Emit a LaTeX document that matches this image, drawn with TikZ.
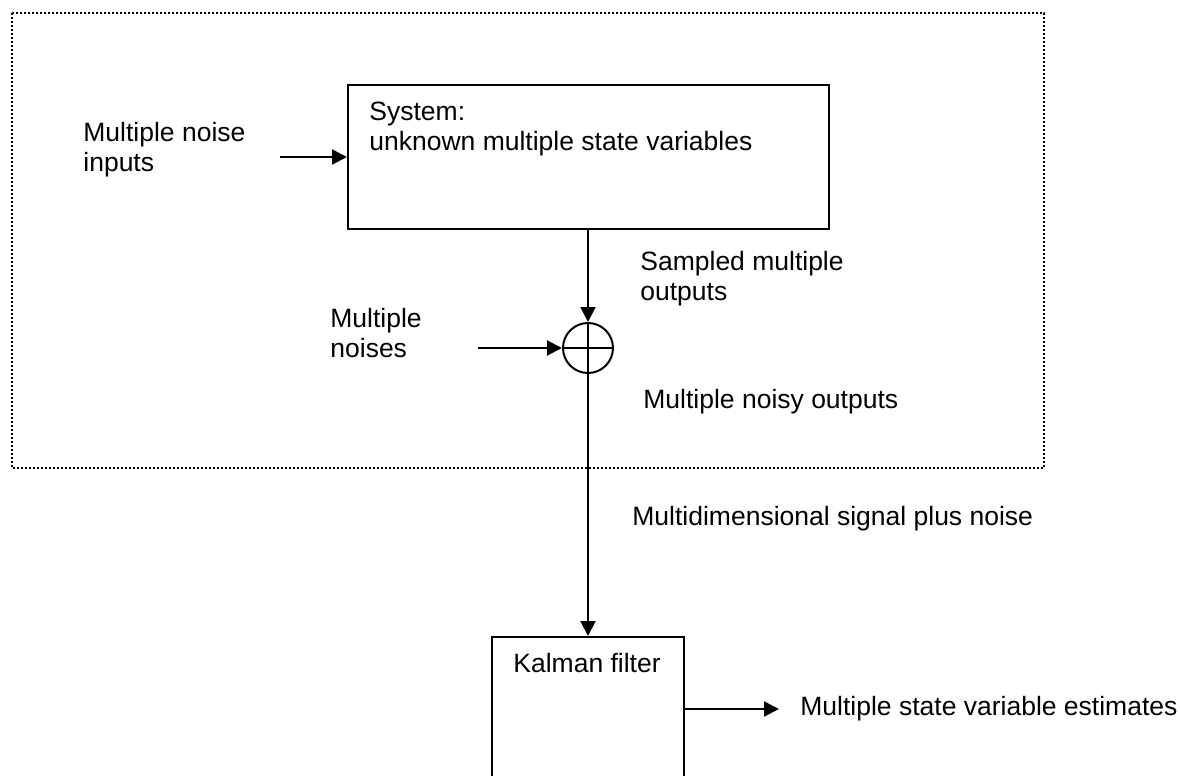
\documentclass[tikz,border=0pt]{standalone}
\usepackage{fontspec}
\setmainfont{Liberation Sans}
\usetikzlibrary{arrows.meta,calc}
\tikzset{
  px/.style={x=0.5pt,y=-0.5pt},
  blk/.style={draw,line width=1pt,inner sep=0pt,rectangle},
  conn/.style={line width=1pt,-{Triangle[length=7.5pt,width=7.5pt]}},
  lbl/.style={inner sep=0pt,anchor=base west,align=left,font=\fontsize{13.25pt}{15pt}\selectfont},
}
\begin{document}
\begin{tikzpicture}[px]
\clip (0,0) rectangle (1180,776);
\path[use as bounding box] (0,0) rectangle (1180,776);
% dotted enclosure
\draw[line width=1pt,dash pattern=on 1pt off 1pt,black] (12,13) rectangle (1044,468);
% blocks
\node[blk,minimum width=240.5pt,minimum height=72pt] (sys) at (588.5,157) {};
\node[lbl] (systxt) at (369,150) {System:\\unknown multiple state variables};
\node[draw,circle,line width=1pt,minimum size=25pt,inner sep=0pt] (sum) at (588,348) {};
\draw[line width=1pt] (sum.north) -- (sum.south) (sum.west) -- (sum.east);
\node[blk,minimum width=96pt,minimum height=131.5pt] (kal) at (588,768.5) {};
\node[lbl] (kaltxt) at (513,672) {Kalman filter};
% free ends
\coordinate (inA) at (280,157);
\coordinate (inB) at (478,348);
\coordinate (outE) at (779,709);
\coordinate (kalO) at (684,709);
% connectors
\draw[conn] (inA) -- (sys.west);
\draw[conn] (sys.south -| sum.north) -- (sum.north);
\draw[conn] (inB) -- (sum.west);
\draw[conn] (sum.south) -- (kal.north);
\draw[conn] (kalO) -- (outE);
% labels
\node[lbl] (l1) at (83,171) {Multiple noise\\inputs};
\node[lbl] (l2) at (330,357) {Multiple\\noises};
\node[lbl] (l3) at (640,300) {Sampled multiple\\outputs};
\node[lbl] (l4) at (643,408) {Multiple noisy outputs};
\node[lbl] (l5) at (632,525) {Multidimensional signal plus noise};
\node[lbl] (l6) at (800,715) {Multiple state variable estimates};
\end{tikzpicture}
\end{document}
